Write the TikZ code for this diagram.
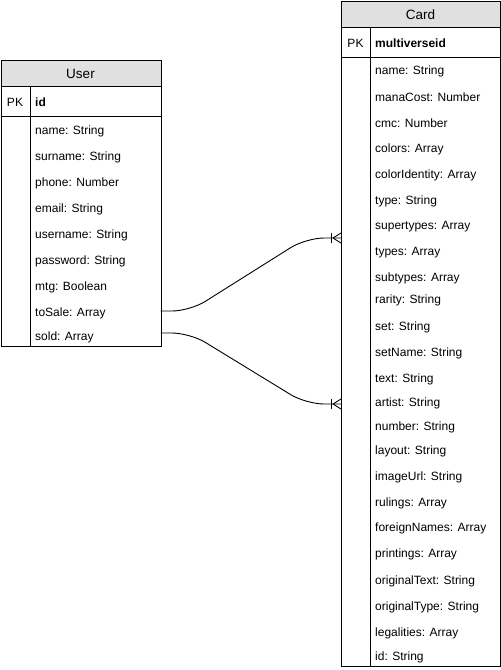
\documentclass[tikz,border=0pt]{standalone}
\usepackage{fontspec}
\setmainfont{Liberation Sans}
\begin{document}
\begin{tikzpicture}[x=1pt,y=-1pt,
  tbl/.style={draw=black, line width=0.9pt, inner sep=0pt, fill=white},
  hdr/.style={draw=black, line width=0.9pt, inner sep=0pt, fill={rgb,255:red,224;green,224;blue,224}},
  title/.style={font=\fontsize{13.5}{15}\selectfont, inner sep=0pt, yshift=-1pt},
  fld/.style={font=\fontsize{12}{14}\selectfont, anchor=west, inner sep=0pt, yshift=-1pt},
  pkf/.style={font=\fontsize{12}{14}\selectfont\bfseries, anchor=west, inner sep=0pt, yshift=-1pt},
  pk/.style={font=\fontsize{12}{14}\selectfont, inner sep=0pt, yshift=-1pt},
  rel/.style={draw=black, line width=0.9pt, rounded corners=18pt},
  foot/.style={draw=black, line width=0.9pt}
]
\useasboundingbox (0,0) rectangle (501,670);
\fill[white] (0,0) rectangle (501,670);

% ---------- User ----------
\node[tbl, minimum width=160, minimum height=286, anchor=north west] (user) at (0.5,60) {};
\node[hdr, minimum width=160, minimum height=26, anchor=north west] (userhdr) at (0.5,60) {};
\node[title] (usertitle) at (80.5,73) {User};
\draw[line width=0.9pt] (0.5,116) -- (160.5,116);
\draw[line width=0.9pt] (30,86) -- (30,346);
\node[pk] (userpk) at (15,101) {PK};
\node[pkf] (userid) at (35,101) {id};
\node[fld] (u1) at (35,130) {name: String};
\node[fld] (u2) at (35,156) {surname: String};
\node[fld] (u3) at (35,182) {phone: Number};
\node[fld] (u4) at (35,208) {email: String};
\node[fld] (u5) at (35,234) {username: String};
\node[fld] (u6) at (35,260) {password: String};
\node[fld] (u7) at (35,286) {mtg: Boolean};
\node[fld] (utosale) at (35,312) {toSale: Array};
\node[fld] (usold) at (35,336) {sold: Array};

% ---------- Card ----------
\node[tbl, minimum width=159, minimum height=665, anchor=north west] (card) at (341,1) {};
\node[hdr, minimum width=159, minimum height=26, anchor=north west] (cardhdr) at (341,1) {};
\node[title] (cardtitle) at (420.5,14) {Card};
\draw[line width=0.9pt] (341,57) -- (500,57);
\draw[line width=0.9pt] (370.5,27) -- (370.5,666);
\node[pk] (cardpk) at (355.5,42) {PK};
\node[pkf] (cardid) at (375,42) {multiverseid};
\node[fld] (c1) at (375,70) {name: String};
\node[fld] (c2) at (375,96) {manaCost: Number};
\node[fld] (c3) at (375,122) {cmc: Number};
\node[fld] (c4) at (375,148) {colors: Array};
\node[fld] (c5) at (375,174) {colorIdentity: Array};
\node[fld] (c6) at (375,200) {type: String};
\node[fld] (c7) at (375,226) {supertypes: Array};
\node[fld] (c8) at (375,252) {types: Array};
\node[fld] (c9) at (375,277) {subtypes: Array};
\node[fld] (c10) at (375,299) {rarity: String};
\node[fld] (c11) at (375,326) {set: String};
\node[fld] (c12) at (375,352) {setName: String};
\node[fld] (c13) at (375,378) {text: String};
\node[fld] (c14) at (375,402) {artist: String};
\node[fld] (c15) at (375,426) {number: String};
\node[fld] (c16) at (375,450) {layout: String};
\node[fld] (c17) at (375,476) {imageUrl: String};
\node[fld] (c18) at (375,502) {rulings: Array};
\node[fld] (c19) at (375,527) {foreignNames: Array};
\node[fld] (c20) at (375,553) {printings: Array};
\node[fld] (c21) at (375,580) {originalText: String};
\node[fld] (c22) at (375,606) {originalType: String};
\node[fld] (c23) at (375,632) {legalities: Array};
\node[fld] (c24) at (375,656) {id: String};

% ---------- connectors ----------
\coordinate (s1) at (160.5,311);
\coordinate (t1) at (341,238);
\coordinate (s2) at (160.5,333);
\coordinate (t2) at (341,404);

\draw[rel] (s1) -- (190,311) -- (306,238) -- (t1);
\draw[rel] (s2) -- (190,333) -- (306,404) -- (t2);

% crow's feet (one-to-many)
\foreach \c in {t1,t2}{
  \draw[foot] ([xshift=-10pt,yshift=-5pt]\c) -- ([xshift=-10pt,yshift=5pt]\c);
  \draw[foot] ([xshift=-8pt]\c) -- ([yshift=-5pt]\c);
  \draw[foot] ([xshift=-8pt]\c) -- ([yshift=5pt]\c);
}
\end{tikzpicture}
\end{document}
